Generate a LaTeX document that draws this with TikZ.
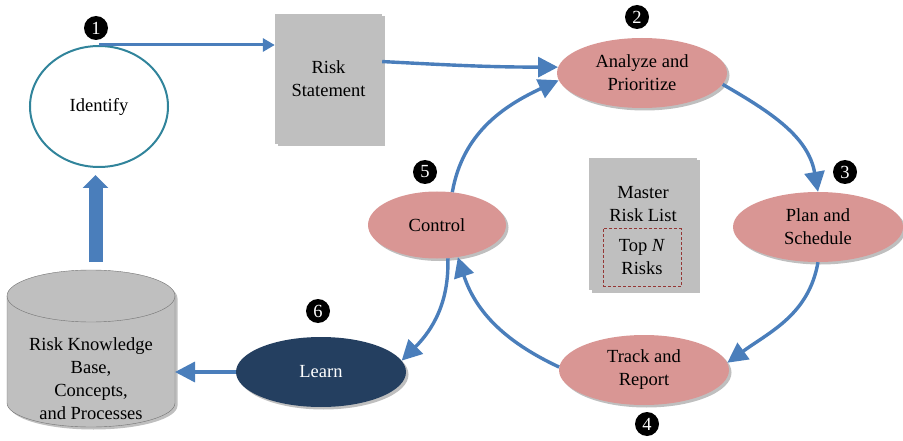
\documentclass[tikz,border=0pt]{standalone}
\usepackage{fontspec}
\setmainfont{Liberation Serif}
\definecolor{riskBlue}{HTML}{4A7EBB}
\definecolor{riskTeal}{HTML}{31849B}
\definecolor{riskPink}{HTML}{D99694}
\definecolor{riskNavy}{HTML}{243F60}
\definecolor{riskGray}{HTML}{BFBFBF}
\definecolor{riskRed}{HTML}{953735}
\usetikzlibrary{arrows.meta,positioning,shapes.geometric,shadows}

\begin{document}
\begin{tikzpicture}[
  x=1pt,y=-1pt,
  font=\fontsize{18.5}{23}\selectfont,
  softshadow/.style={drop shadow={shadow xshift=2.5pt,shadow yshift=-2.5pt,opacity=0.25,fill=black}},
  flow/.style={-{Triangle[length=20pt,width=20pt]},draw=riskBlue,line width=3.4pt},
  phase/.style={ellipse,fill=riskPink,minimum width=170pt,minimum height=70pt,
                inner sep=0pt,align=center,softshadow},
  card/.style={rectangle,fill=riskGray,inner sep=0pt,align=center,softshadow},
  badge/.style={circle,fill=black,text=white,minimum size=24pt,inner sep=0pt},
]
  \useasboundingbox (0,0) rectangle (903,441);

  \node[ellipse,draw=riskTeal,line width=2pt,minimum width=138pt,minimum height=121pt] (idf) at (99,106.5) {Identify};
  \node[card,minimum width=107pt,minimum height=130pt] (rs) at (328.5,79) {Risk\\Statement};

  % knowledge base drum
  \path[fill=riskGray,draw=black!55,thin,softshadow]
    (7,296) -- (7,403) arc[start angle=180,end angle=360,x radius=84pt,y radius=24pt]
    -- (175,296) arc[start angle=0,end angle=180,x radius=84pt,y radius=26pt] -- cycle;
  \draw[black!55,thin] (7,296) arc[start angle=180,end angle=360,x radius=84pt,y radius=26pt];
  \coordinate (kbtop) at (95.5,262);
  \coordinate (kbright) at (175,373);
  \node[align=center] (kbtxt) at (91,379) {Risk Knowledge\\Base,\\Concepts,\\and Processes};

  \node[phase] (ana) at (642,73)  {Analyze and\\Prioritize};
  \node[phase] (pln) at (818,227) {Plan and\\Schedule};
  \node[phase] (trk) at (644,370) {Track and\\Report};
  \node[phase,minimum width=138pt,minimum height=67pt] (ctl) at (437,225) {Control};
  \node[phase,fill=riskNavy,text=white] (lrn) at (321,372) {Learn};

  \node[card,minimum width=108pt,minimum height=132pt] (mrl) at (643,224) {};
  \node[align=center] (mrltxt) at (643,204) {Master\\Risk List};
  \node[draw=riskRed,dash pattern=on 3pt off 2pt,line width=0.8pt,minimum width=78pt,minimum height=58pt,align=center] (topn) at (642,257.5) {Top \textit{N}\\Risks};

  \foreach \n/\bx/\by in {1/96/28,2/637/17,3/845/172,4/647/424,5/425/172,6/318/311}
    \node[badge] (b\n) at (\bx,\by) {\n};

  \draw[flow,-{Triangle[length=12pt,width=13pt]},line width=3pt] (idf.north) -- (idf.north -| rs.west);
  \draw[flow] (rs.18) to[out=-3,in=180] (ana.176);
  \draw[flow] (ana.-8) to[out=-30,in=100] (pln.north);
  \draw[flow] (pln.south) to[out=-100,in=36] (trk.5);
  \draw[flow] (trk.178) to[out=155,in=-72] (ctl.-57);
  \draw[flow] (ctl.65) to[out=80,in=205] (ana.185);
  \draw[flow] (ctl.-72) to[out=-88,in=45] (lrn.8);
  \draw[flow] (lrn.west) -- (lrn.west -| kbright);
  \draw[flow,-{Triangle[length=13pt,width=25pt]},line width=14pt,shorten >=7pt] (kbtop) -- (kbtop |- idf.south);
\end{tikzpicture}
\end{document}
